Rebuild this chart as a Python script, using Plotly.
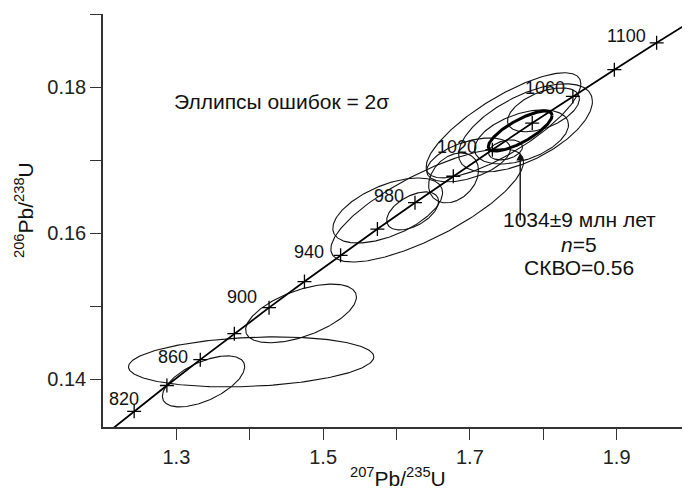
import numpy as np
import plotly.graph_objects as go

# ---------------- data ----------------
# concordia age marks (Ma)
mark_ages = [820, 840, 860, 880, 900, 920, 940, 960, 980, 1000, 1020, 1040, 1060, 1080, 1100]
label_ages = [820, 860, 900, 940, 980, 1020, 1060, 1100]
curve_ages = [800, 820, 840, 860, 880, 900, 920, 940, 960, 980, 1000, 1020, 1040, 1060, 1080, 1100, 1120]
LAMBDA_235 = 9.8485e-10
LAMBDA_238 = 1.55125e-10

# analysis error ellipses (2 sigma): centre 207Pb/235U, centre 206Pb/238U, 2s x, 2s y, rho
ell_x   = [1.4019, 1.3370, 1.4699, 1.5880, 1.6418, 1.6220, 1.6778, 1.7458, 1.7758, 1.7704, 1.8003, 1.7486, 1.6982]
ell_y   = [0.14241, 0.13974, 0.14904, 0.16312, 0.16381, 0.16306, 0.16758, 0.17477, 0.17442, 0.17318, 0.17689, 0.17141, 0.17004]
ell_sx  = [0.1672, 0.0561, 0.0755, 0.0748, 0.1313, 0.0354, 0.0340, 0.1054, 0.0912, 0.0640, 0.0490, 0.0231, 0.0571]
ell_sy  = [0.00342, 0.00349, 0.00401, 0.00445, 0.00774, 0.00260, 0.00342, 0.00719, 0.00603, 0.00370, 0.00300, 0.00137, 0.00301]
ell_rho = [0.20, 0.58, 0.56, 0.55, 0.77, 0.50, 0.30, 0.79, 0.60, 0.45, 0.50, 0.30, 0.50]

# concordia age ellipse
conc_age = 1034
conc_sx, conc_sy, conc_rho = 0.0435, 0.00274, 0.78

x_major = [1.3, 1.5, 1.7, 1.9]
x_minor = [1.4, 1.6, 1.8]
y_major = [0.14, 0.16, 0.18]
y_minor = [0.15, 0.17, 0.19]

# ---------------- helpers ----------------
def conc(t_ma):
    t = np.asarray(t_ma, dtype=float) * 1e6
    return np.exp(LAMBDA_235 * t) - 1, np.exp(LAMBDA_238 * t) - 1

def ellipse(cx, cy, sx, sy, rho, n=240):
    th = np.linspace(0, 2 * np.pi, n)
    xs = cx + sx * np.cos(th)
    ys = cy + sy * (rho * np.cos(th) + np.sqrt(1 - rho ** 2) * np.sin(th))
    return xs, ys

FONT = "Liberation Sans, Arial, Helvetica, sans-serif"
fig = go.Figure()

for cx, cy, sx, sy, r in zip(ell_x, ell_y, ell_sx, ell_sy, ell_rho):
    ex, ey = ellipse(cx, cy, sx, sy, r)
    fig.add_trace(go.Scatter(x=ex, y=ey, mode="lines", line=dict(color="#111", width=1.1),
                             hoverinfo="skip", showlegend=False))

cxl, cyl = conc(curve_ages)
fig.add_trace(go.Scatter(x=cxl, y=cyl, mode="lines", line=dict(color="#000", width=1.8),
                         hoverinfo="skip", showlegend=False))

mx, my = conc(mark_ages)
fig.add_trace(go.Scatter(x=mx, y=my, mode="markers",
                         marker=dict(symbol="cross-thin", size=10, line=dict(color="#000", width=1.3)),
                         hoverinfo="skip", showlegend=False))

ccx, ccy = conc([conc_age])
ex, ey = ellipse(ccx[0], ccy[0], conc_sx, conc_sy, conc_rho)
fig.add_trace(go.Scatter(x=ex, y=ey, mode="lines", line=dict(color="#000", width=3),
                         hoverinfo="skip", showlegend=False))

# age labels (pixel offsets relative to the marks)
label_offsets = {820: (6.7, 12.7), 860: (-9.8, 2.8), 900: (-9.9, 10.8), 940: (-14.5, 3.7),
                 980: (-8.7, 6.7), 1020: (-13.4, 3.2), 1060: (-5.4, 8.4), 1100: (-8.9, 7.1)}
lx, ly = conc(label_ages)
for a, xx, yy in zip(label_ages, lx, ly):
    dx, dy = label_offsets[a]
    fig.add_annotation(x=xx, y=yy, text=str(a), showarrow=False, xanchor="right", yanchor="middle",
                       xshift=dx, yshift=dy, font=dict(family=FONT, size=18, color="#111"))

fig.add_annotation(x=1.2947, y=0.17803, text="Эллипсы ошибок = 2σ", showarrow=False,
                   xanchor="left", yanchor="middle", font=dict(family=FONT, size=21, color="#111"))

# arrow to concordia ellipse
fig.add_annotation(x=1.7686, y=0.1710, ax=1.7686, ay=0.16155, axref="x", ayref="y",
                   text="", showarrow=True, arrowhead=2, arrowsize=1.1, arrowwidth=1.4, arrowcolor="#111")

for txt, yv in [("1034±9 млн лет", 0.16185), ("<i>n</i>=5", 0.15842), ("СКВО=0.56", 0.15527)]:
    fig.add_annotation(x=1.8493, y=yv, text=txt, showarrow=False, xanchor="center", yanchor="middle",
                       font=dict(family=FONT, size=21, color="#111"))

# axis titles
fig.add_annotation(xref="paper", yref="paper", x=0.503, y=-0.122, text="<sup>207</sup>Pb/<sup>235</sup>U",
                   showarrow=False, xanchor="center", yanchor="middle",
                   font=dict(family=FONT, size=21, color="#111"))
fig.add_annotation(xref="paper", yref="paper", x=-0.1346, y=0.5254, text="<sup>206</sup>Pb/<sup>238</sup>U",
                   showarrow=False, xanchor="center", yanchor="middle", textangle=-90,
                   font=dict(family=FONT, size=21, color="#111"))

tick_style = dict(ticks="outside", ticklen=11, tickwidth=1.3, tickcolor="#333")
axis_common = dict(showgrid=False, zeroline=False, showline=True, linecolor="#333", linewidth=1.5,
                   tickfont=dict(family=FONT, size=20, color="#222"), **tick_style)

# page body has an 8px default margin: the figure is sized/offset to compensate
fig.update_layout(
    width=682, height=482, margin=dict(l=95, r=0, t=6, b=63),
    paper_bgcolor="white", plot_bgcolor="white", showlegend=False,
    xaxis=dict(range=[1.2, 2.0], tickvals=x_major, ticktext=[f"{v:.1f}" for v in x_major],
               minor=dict(tickvals=x_minor, showgrid=False, **tick_style), **axis_common),
    yaxis=dict(range=[0.1335, 0.19], tickvals=y_major, ticktext=[f"{v:.2f}" for v in y_major],
               minor=dict(tickvals=y_minor, showgrid=False, **tick_style), **axis_common),
)
fig.write_html("out.html")
